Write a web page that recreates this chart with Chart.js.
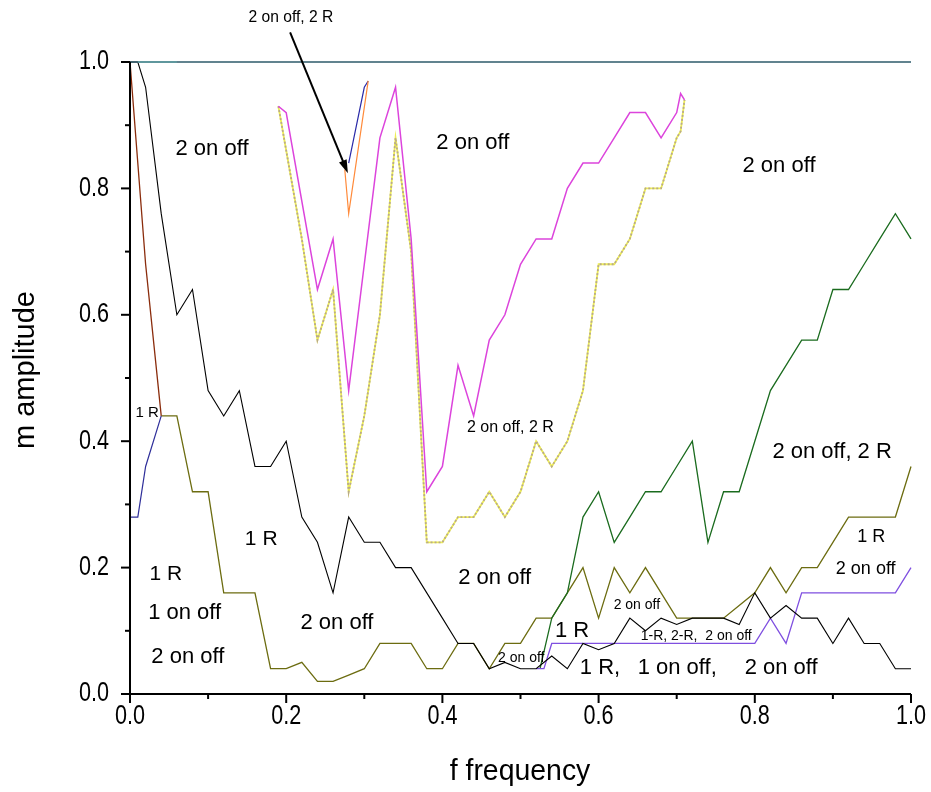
<!DOCTYPE html>
<html>
<head>
<meta charset="utf-8">
<script src="https://cdn.jsdelivr.net/npm/chart.js@4.4.1/dist/chart.umd.min.js"></script>
<style>
  html, body { margin: 0; padding: 0; background: #fff; }
  #wrap { width: 931px; height: 792px; }
</style>
</head>
<body>
<div id="wrap"><canvas id="ampChart"></canvas></div>
<script>
// ---- data (f frequency vs m amplitude) ----
const xTickValues = [0, 0.2, 0.4, 0.6, 0.8, 1.0];
const xTickLabels = ['0.0', '0.2', '0.4', '0.6', '0.8', '1.0'];
const yTickValues = [0, 0.2, 0.4, 0.6, 0.8, 1.0];
const yTickLabels = ['0.0', '0.2', '0.4', '0.6', '0.8', '1.0'];

const refX = [0, 1];
const refY = [1, 1];
const refLightX = [0.01, 0.06];
const refLightY = [1, 1];

const blackX = [0, 0.01, 0.02, 0.04, 0.06, 0.08, 0.10, 0.12, 0.14, 0.16, 0.18, 0.20, 0.22, 0.24, 0.26, 0.28, 0.30, 0.32, 0.34, 0.36, 0.38, 0.40, 0.42, 0.44, 0.46, 0.48, 0.50, 0.52, 0.54, 0.56, 0.58, 0.60, 0.62, 0.64, 0.66, 0.68, 0.70, 0.72, 0.74, 0.76, 0.78, 0.80, 0.82, 0.84, 0.86, 0.88, 0.90, 0.92, 0.94, 0.96, 0.98, 1.0];
const blackY = [1.0, 1.0, 0.96, 0.76, 0.60, 0.64, 0.48, 0.44, 0.48, 0.36, 0.36, 0.40, 0.28, 0.24, 0.16, 0.28, 0.24, 0.24, 0.20, 0.20, 0.16, 0.12, 0.08, 0.08, 0.04, 0.05, 0.04, 0.04, 0.06, 0.04, 0.08, 0.07, 0.08, 0.12, 0.10, 0.12, 0.11, 0.12, 0.12, 0.12, 0.11, 0.16, 0.12, 0.14, 0.12, 0.12, 0.08, 0.12, 0.08, 0.08, 0.04, 0.04];

const oliveX = [0.04, 0.06, 0.08, 0.10, 0.12, 0.14, 0.16, 0.18, 0.20, 0.22, 0.24, 0.26, 0.28, 0.30, 0.32, 0.34, 0.36, 0.38, 0.40, 0.42, 0.44, 0.46, 0.48, 0.50, 0.52, 0.54, 0.56, 0.58, 0.60, 0.62, 0.64, 0.66, 0.68, 0.70, 0.72, 0.74, 0.76, 0.78, 0.80, 0.82, 0.84, 0.86, 0.88, 0.90, 0.92, 0.94, 0.96, 0.98, 1.0];
const oliveY = [0.44, 0.44, 0.32, 0.32, 0.16, 0.16, 0.16, 0.04, 0.04, 0.05, 0.02, 0.02, 0.03, 0.04, 0.08, 0.08, 0.08, 0.04, 0.04, 0.08, 0.08, 0.04, 0.08, 0.08, 0.12, 0.12, 0.16, 0.20, 0.12, 0.20, 0.16, 0.20, 0.16, 0.12, 0.12, 0.12, 0.12, 0.14, 0.16, 0.20, 0.16, 0.20, 0.20, 0.24, 0.28, 0.28, 0.28, 0.28, 0.36];

const greenX = [0.525, 0.54, 0.56, 0.58, 0.60, 0.62, 0.64, 0.66, 0.68, 0.70, 0.72, 0.74, 0.76, 0.78, 0.80, 0.82, 0.84, 0.86, 0.88, 0.90, 0.92, 0.94, 0.96, 0.98, 1.0];
const greenY = [0.04, 0.12, 0.16, 0.28, 0.32, 0.24, 0.28, 0.32, 0.32, 0.36, 0.40, 0.24, 0.32, 0.32, 0.40, 0.48, 0.52, 0.56, 0.56, 0.64, 0.64, 0.68, 0.72, 0.76, 0.72];

const violetX = [0.52, 0.53, 0.54, 0.56, 0.58, 0.60, 0.62, 0.64, 0.66, 0.68, 0.70, 0.72, 0.74, 0.76, 0.78, 0.80, 0.82, 0.84, 0.86, 0.88, 0.90, 0.92, 0.94, 0.96, 0.98, 1.0];
const violetY = [0.04, 0.04, 0.08, 0.08, 0.08, 0.08, 0.08, 0.08, 0.08, 0.08, 0.08, 0.08, 0.08, 0.08, 0.08, 0.08, 0.12, 0.08, 0.16, 0.16, 0.16, 0.16, 0.16, 0.16, 0.16, 0.20];

const magentaX = [0.19, 0.20, 0.22, 0.24, 0.26, 0.28, 0.30, 0.32, 0.34, 0.36, 0.38, 0.40, 0.42, 0.44, 0.46, 0.48, 0.50, 0.52, 0.54, 0.56, 0.58, 0.60, 0.62, 0.64, 0.66, 0.68, 0.70, 0.705, 0.71];
const magentaY = [0.93, 0.92, 0.78, 0.64, 0.72, 0.48, 0.68, 0.88, 0.96, 0.72, 0.32, 0.36, 0.52, 0.44, 0.56, 0.60, 0.68, 0.72, 0.72, 0.80, 0.84, 0.84, 0.88, 0.92, 0.92, 0.88, 0.92, 0.95, 0.94];

const yellowX = [0.19, 0.22, 0.24, 0.26, 0.28, 0.30, 0.32, 0.34, 0.36, 0.38, 0.40, 0.42, 0.44, 0.46, 0.48, 0.50, 0.52, 0.54, 0.56, 0.58, 0.60, 0.62, 0.64, 0.66, 0.68, 0.70, 0.705, 0.71];
const yellowY = [0.93, 0.72, 0.56, 0.64, 0.32, 0.44, 0.60, 0.88, 0.70, 0.24, 0.24, 0.28, 0.28, 0.32, 0.28, 0.32, 0.40, 0.36, 0.40, 0.48, 0.68, 0.68, 0.72, 0.80, 0.80, 0.88, 0.89, 0.94];

const navyLeftX = [0, 0.01, 0.02, 0.04];
const navyLeftY = [0.28, 0.28, 0.36, 0.44];
const brownX = [0, 0.02, 0.04];
const brownY = [1.0, 0.68, 0.44];

const navyTopX = [0.28, 0.30, 0.305];
const navyTopY = [0.84, 0.96, 0.97];
const orangeX = [0.275, 0.28, 0.305];
const orangeY = [0.83, 0.76, 0.97];

// text notes placed in data units
const notes = [
  { t: '2 on off, 2 R', x: 0.206, y: 1.070, s: 17, narrow: true },
  { t: '2 on off', x: 0.105, y: 0.862, s: 22 },
  { t: '2 on off', x: 0.439, y: 0.872, s: 22 },
  { t: '2 on off', x: 0.831, y: 0.835, s: 22 },
  { t: '1 R', x: 0.022, y: 0.445, s: 15 },
  { t: '2 on off, 2 R', x: 0.487, y: 0.421, s: 16 },
  { t: '2 on off, 2 R', x: 0.899, y: 0.383, s: 22 },
  { t: '1 R', x: 0.949, y: 0.248, s: 18 },
  { t: '1 R', x: 0.168, y: 0.245, s: 21 },
  { t: '1 R', x: 0.046, y: 0.190, s: 21 },
  { t: '1 on off', x: 0.070, y: 0.128, s: 22 },
  { t: '2 on off', x: 0.074, y: 0.059, s: 22 },
  { t: '2 on off', x: 0.265, y: 0.112, s: 22 },
  { t: '2 on off', x: 0.467, y: 0.184, s: 22 },
  { t: '2 on off', x: 0.942, y: 0.198, s: 18 },
  { t: '2 on off', x: 0.649, y: 0.141, s: 14 },
  { t: '1-R, 2-R,  2 on off', x: 0.725, y: 0.092, s: 14 },
  { t: '1 R', x: 0.566, y: 0.100, s: 22 },
  { t: '2 on off', x: 0.501, y: 0.057, s: 14 }
];
const bottomNotes = [
  { t: '1 R,', x: 0.576, y: 0.041, s: 22 },
  { t: '1 on off,', x: 0.650, y: 0.041, s: 22 },
  { t: '2 on off', x: 0.787, y: 0.041, s: 22 }
];
const arrowFrom = { x: 0.205, y: 1.047 };
const arrowTo = { x: 0.279, y: 0.824 };

function pts(xs, ys) {
  return xs.map((x, i) => ({ x: x, y: ys[i] }));
}

function series(xs, ys, color, width, extra) {
  return Object.assign({
    data: pts(xs, ys),
    borderColor: color,
    borderWidth: width,
    showLine: true,
    pointRadius: 0,
    fill: false,
    tension: 0,
    clip: 6
  }, extra || {});
}

const FONT = '"Liberation Sans", Arial, sans-serif';

// condensed text, like the narrow face used on the axes
function squeezed(ctx, text, x, y, sx) {
  ctx.save();
  ctx.translate(x, y);
  ctx.scale(sx, 1);
  ctx.fillText(text, 0, 0);
  ctx.restore();
}

// axis lines, tick marks, tick labels, notes and arrow
const decorPlugin = {
  id: 'decor',
  afterDraw(chart) {
    const ctx = chart.ctx;
    const xs = chart.scales.x, ys = chart.scales.y;
    const area = chart.chartArea;
    ctx.save();
    ctx.strokeStyle = '#000';
    ctx.lineWidth = 2;
    ctx.beginPath();
    ctx.moveTo(area.left, area.top);
    ctx.lineTo(area.left, area.bottom);
    ctx.lineTo(area.right, area.bottom);
    ctx.stroke();

    for (let i = 0; i <= 10; i++) {
      const v = i / 10;
      const len = i % 2 === 0 ? 9 : 5;
      const px = xs.getPixelForValue(v);
      ctx.beginPath();
      ctx.moveTo(px, area.bottom);
      ctx.lineTo(px, area.bottom + len);
      ctx.stroke();
      const py = ys.getPixelForValue(v);
      ctx.beginPath();
      ctx.moveTo(area.left, py);
      ctx.lineTo(area.left - len, py);
      ctx.stroke();
    }

    ctx.fillStyle = '#000';
    ctx.font = '27px ' + FONT;
    ctx.textBaseline = 'middle';
    ctx.textAlign = 'center';
    xTickValues.forEach((v, i) => {
      squeezed(ctx, xTickLabels[i], xs.getPixelForValue(v), area.bottom + 23, 0.8);
    });
    ctx.textAlign = 'right';
    yTickValues.forEach((v, i) => {
      squeezed(ctx, yTickLabels[i], area.left - 21, ys.getPixelForValue(v), 0.8);
    });

    ctx.textAlign = 'center';
    notes.forEach(n => {
      ctx.font = n.s + 'px ' + FONT;
      squeezed(ctx, n.t, xs.getPixelForValue(n.x), ys.getPixelForValue(n.y), n.narrow ? 0.92 : 1);
    });
    ctx.textAlign = 'left';
    bottomNotes.forEach(n => {
      ctx.font = n.s + 'px ' + FONT;
      ctx.fillText(n.t, xs.getPixelForValue(n.x), ys.getPixelForValue(n.y));
    });

    // arrow to the orange dip
    const ax = xs.getPixelForValue(arrowFrom.x), ay = ys.getPixelForValue(arrowFrom.y);
    const bx = xs.getPixelForValue(arrowTo.x), by = ys.getPixelForValue(arrowTo.y);
    const ang = Math.atan2(by - ay, bx - ax);
    const head = 14;
    ctx.lineWidth = 2;
    ctx.beginPath();
    ctx.moveTo(ax, ay);
    ctx.lineTo(bx - Math.cos(ang) * head * 0.8, by - Math.sin(ang) * head * 0.8);
    ctx.stroke();
    ctx.beginPath();
    ctx.moveTo(bx, by);
    ctx.lineTo(bx - head * Math.cos(ang - 0.3), by - head * Math.sin(ang - 0.3));
    ctx.lineTo(bx - head * Math.cos(ang + 0.3), by - head * Math.sin(ang + 0.3));
    ctx.closePath();
    ctx.fill();

    // axis titles
    ctx.font = '29px ' + FONT;
    ctx.textAlign = 'center';
    squeezed(ctx, 'f frequency', 520, 772, 0.98);
    ctx.translate(26, 370);
    ctx.rotate(-Math.PI / 2);
    ctx.fillText('m amplitude', 0, 0);
    ctx.restore();
  }
};

new Chart(document.getElementById('ampChart').getContext('2d'), {
  type: 'scatter',
  data: {
    datasets: [
      series(refLightX, refLightY, '#5f9ea2', 1.3),
      series(refX, refY, '#2d5a6a', 1.3),
      series(orangeX, orangeY, '#ff8a3a', 1.2),
      series(navyTopX, navyTopY, '#2a2aa8', 1.2),
      series(brownX, brownY, '#8a2c0c', 1.3),
      series(navyLeftX, navyLeftY, '#2f2f9a', 1.2),
      series(blackX, blackY, '#000000', 1.1),
      series(violetX, violetY, '#7f4fe0', 1.3),
      series(greenX, greenY, '#1a6b1e', 1.3),
      series(oliveX, oliveY, '#6c6c10', 1.3),
      series(magentaX, magentaY, '#dc44dc', 1.5),
      series(yellowX, yellowY, '#b9aa8a', 1.8, { borderDash: [2, 2] }),
      series(yellowX, yellowY, '#eeee55', 1.8)
    ]
  },
  options: {
    responsive: true,
    maintainAspectRatio: false,
    animation: false,
    layout: { padding: { top: 62, right: 20, left: 0, bottom: 0 } },
    plugins: { legend: { display: false }, tooltip: { enabled: false } },
    scales: {
      x: {
        type: 'linear', min: 0, max: 1,
        grid: { display: false, drawTicks: false },
        border: { display: false },
        afterFit(scale) { scale.height = 98; },
        ticks: { display: false, stepSize: 0.2 }
      },
      y: {
        type: 'linear', min: 0, max: 1,
        grid: { display: false, drawTicks: false },
        border: { display: false },
        afterFit(scale) { scale.width = 130; },
        ticks: { display: false, stepSize: 0.2 }
      }
    }
  },
  plugins: [decorPlugin]
});
</script>
</body>
</html>
